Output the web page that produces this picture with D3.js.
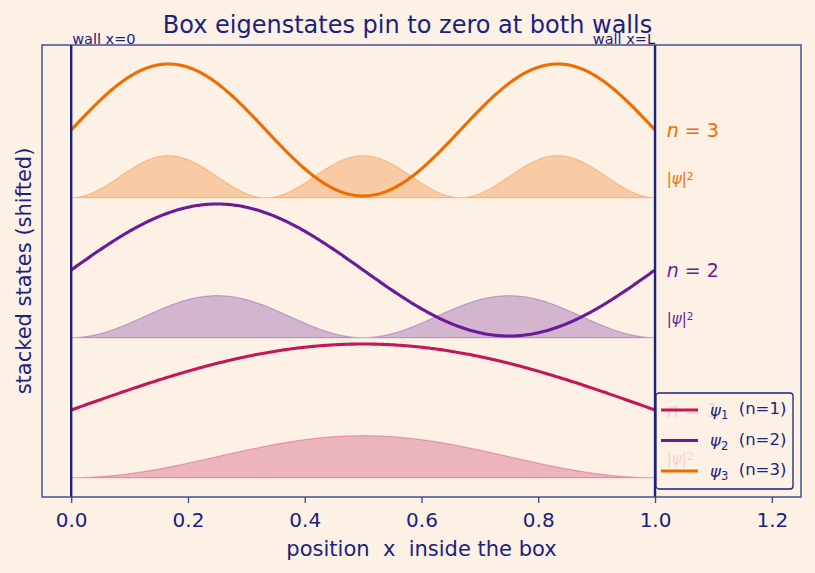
<!DOCTYPE html>
<html lang="en">
<head>
  <meta charset="utf-8">
  <title>Box eigenstates</title>
  <script src="https://d3js.org/d3.v7.min.js"></script>
  <style>
    body { margin: 0; background: #fdf0e4; }
    svg { display: block; font-family: "DejaVu Sans", sans-serif; }
  </style>
</head>
<body>
  <svg id="chart" width="815" height="573"></svg>

  <script>
    // quantum numbers, colours and vertical shift of each state
    const levels = [1, 2, 3];
    const colors = ["#c2185b", "#6a1b9a", "#ef6c00"];
    const offsets = [0, 3, 6];        // psi baseline
    const densityShift = -1.45;       // |psi|^2 baseline relative to psi baseline
    const densityScale = 0.45;        // |psi|^2 drawn scaled
    const xTicks = [0.0, 0.2, 0.4, 0.6, 0.8, 1.0, 1.2];
    const samples = 400;

    const width = 815, height = 573;
    const margin = { top: 45, right: 14, bottom: 76, left: 42 };
    const navy = "#1a237e";
    const spine = "#3a4590";

    const svg = d3.select("#chart");
    svg.append("rect").attr("width", width).attr("height", height).attr("fill", "#fdf0e4");

    const x = d3.scaleLinear().domain([-0.05, 1.25]).range([margin.left, width - margin.right]);
    const y = d3.scaleLinear().domain([-1.864, 7.821]).range([height - margin.bottom, margin.top]);

    const xs = d3.range(samples + 1).map(i => i / samples);
    const psi = (n, t) => Math.SQRT2 * Math.sin(n * Math.PI * t);

    svg.append("clipPath").attr("id", "clip")
      .append("rect")
        .attr("x", margin.left).attr("y", margin.top)
        .attr("width", width - margin.left - margin.right)
        .attr("height", height - margin.top - margin.bottom);

    const plot = svg.append("g").attr("clip-path", "url(#clip)");

    levels.forEach((n, i) => {
      const base = offsets[i] + densityShift;
      const area = d3.area()
        .x(t => x(t))
        .y0(() => y(base))
        .y1(t => y(base + densityScale * psi(n, t) ** 2));
      plot.append("path")
        .attr("d", area(xs) + "Z")
        .attr("fill", colors[i]).attr("fill-opacity", 0.28)
        .attr("stroke", colors[i]).attr("stroke-opacity", 0.3).attr("stroke-width", 1.2);

      const line = d3.line().x(t => x(t)).y(t => y(offsets[i] + psi(n, t)));
      plot.append("path")
        .attr("d", line(xs))
        .attr("fill", "none").attr("stroke", colors[i]).attr("stroke-width", 3.1);

      // labels to the right of the box
      const lx = x(1.02);
      const lab = svg.append("text")
        .attr("x", lx).attr("y", y(offsets[i]))
        .attr("dy", "0.35em")
        .attr("fill", colors[i])
        .style("font-size", "19px");
      lab.append("tspan").attr("font-style", "italic").text("n");
      lab.append("tspan").text(" = " + n);

      const dl = svg.append("text")
        .attr("x", lx).attr("y", y(offsets[i] - 1.05))
        .attr("dy", "0.35em")
        .attr("fill", colors[i])
        .style("font-size", "15px");
      dl.append("tspan").text("|");
      dl.append("tspan").attr("font-style", "italic").text("ψ");
      dl.append("tspan").text("|");
      dl.append("tspan").attr("dy", "-0.45em").style("font-size", "10.5px").text("2");
    });

    // walls
    [0, 1].forEach(w => {
      svg.append("line")
        .attr("x1", x(w)).attr("x2", x(w))
        .attr("y1", margin.top).attr("y2", height - margin.bottom)
        .attr("stroke", navy).attr("stroke-width", 2.4);
    });
    svg.append("text").attr("x", x(0) + 1).attr("y", margin.top - 1)
      .attr("fill", navy).style("font-size", "14.5px").text("wall x=0");
    svg.append("text").attr("x", x(1)).attr("y", margin.top - 1)
      .attr("text-anchor", "end")
      .attr("fill", navy).style("font-size", "14.5px").text("wall x=L");

    // axis frame
    svg.append("rect")
      .attr("x", margin.left).attr("y", margin.top)
      .attr("width", width - margin.left - margin.right)
      .attr("height", height - margin.top - margin.bottom)
      .attr("fill", "none").attr("stroke", spine).attr("stroke-width", 1.4);

    const xAxis = svg.append("g")
      .attr("transform", `translate(0,${height - margin.bottom})`)
      .call(d3.axisBottom(x).tickValues(xTicks).tickFormat(d3.format(".1f")).tickSize(6).tickPadding(10));
    xAxis.select(".domain").remove();
    xAxis.selectAll("line").attr("stroke", spine).attr("stroke-width", 1.3);
    xAxis.selectAll("text").attr("fill", navy).style("font-size", "20px")
      .style("font-family", "DejaVu Sans, sans-serif");

    svg.append("text")
      .attr("x", (margin.left + width - margin.right) / 2).attr("y", 556)
      .attr("text-anchor", "middle").attr("fill", navy).style("font-size", "21px")
      .attr("xml:space", "preserve")
      .text("position  x  inside the box");

    svg.append("text")
      .attr("transform", `translate(31,${(margin.top + height - margin.bottom) / 2}) rotate(-90)`)
      .attr("text-anchor", "middle").attr("fill", navy).style("font-size", "21px")
      .text("stacked states (shifted)");

    svg.append("text")
      .attr("x", width / 2).attr("y", 33)
      .attr("text-anchor", "middle").attr("fill", navy).style("font-size", "24px")
      .text("Box eigenstates pin to zero at both walls");

    // legend
    const lg = svg.append("g").attr("transform", "translate(656,393)");
    lg.append("rect").attr("width", 137).attr("height", 96).attr("rx", 3)
      .attr("fill", "#fdf0e4").attr("fill-opacity", 0.85)
      .attr("stroke", navy).attr("stroke-width", 1.3);
    levels.forEach((n, i) => {
      const ry = 17 + i * 30.5;
      lg.append("line").attr("x1", 5).attr("x2", 42).attr("y1", ry).attr("y2", ry)
        .attr("stroke", colors[i]).attr("stroke-width", 3.1);
      const t = lg.append("text").attr("x", 54).attr("y", ry).attr("dy", "0.35em")
        .attr("fill", navy).style("font-size", "16.5px").attr("xml:space", "preserve");
      t.append("tspan").attr("font-style", "italic").text("ψ");
      t.append("tspan").attr("dy", "0.3em").style("font-size", "11.5px").text(n);
      t.append("tspan").attr("dy", "-0.3em").text("  (n=" + n + ")");
    });
  </script>
</body>
</html>
